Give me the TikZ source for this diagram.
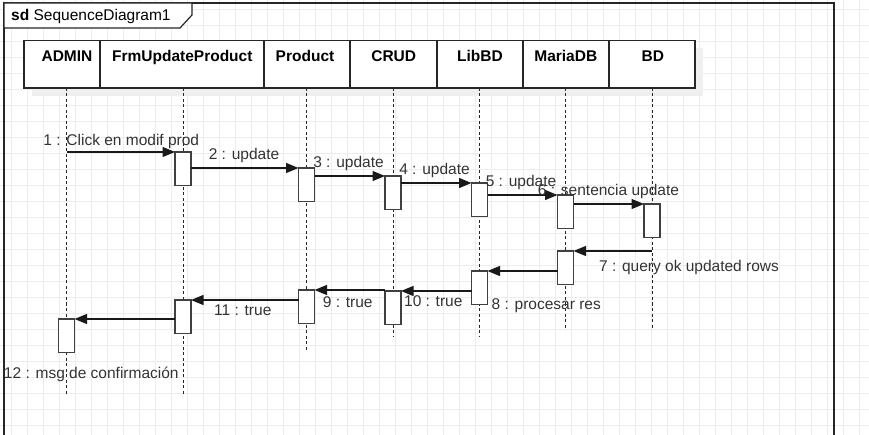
\documentclass[tikz,border=0pt]{standalone}
\usepackage{fontspec}
\setmainfont{Liberation Sans}
\usetikzlibrary{arrows.meta}
\definecolor{gridgray}{HTML}{EDEDED}
\definecolor{ink}{HTML}{333333}
\definecolor{shadowgray}{HTML}{EFEFEF}

\begin{document}
\begin{tikzpicture}[x=1pt,y=-1pt,
        every node/.style={font=\fontsize{15.5pt}{18pt}\selectfont},
        gridline/.style={gridgray,line width=1pt},
        head/.style={draw=black!85,fill=white,line width=1.2pt,minimum height=47.5pt,inner sep=0pt,outer sep=0pt,anchor=north},
        headtext/.style={anchor=base,inner sep=0pt,font=\fontsize{15.5pt}{18pt}\selectfont\bfseries},
        life/.style={black!85,line width=1pt,dash pattern=on 3pt off 2.5pt},
        act/.style={draw=black!75,fill=white,line width=1.2pt,minimum width=16pt,minimum height=33.5pt,inner sep=0pt,outer sep=0pt,anchor=north},
        msg/.style={black!90,line width=1.2pt,-{Triangle[length=12.5pt,width=10pt]}},
        lbl/.style={ink,anchor=base,inner sep=0pt}]
        \useasboundingbox (0,0) rectangle (869,435);
        % editor grid
        \foreach \gx in {11.3,27.3,...,869} \draw[gridline] (\gx,0) -- (\gx,435);
        \foreach \gy in {9.3,25.3,...,435} \draw[gridline] (0,\gy) -- (869,\gy);
        % frame
        \draw[black!85,line width=1.3pt] (4,435) -- (4,3) -- (834,3) -- (834,435);
        \draw[black!85,line width=1.2pt,fill=white] (4,3) -- (192,3) -- (192,15) -- (180,28) -- (4,28) -- cycle;
        \node[anchor=base west,inner sep=0pt] (title) at (11,20.5) {\textbf{sd} SequenceDiagram1};
        % heads
        \fill[shadowgray] (32,48.5) rectangle (703,96);
        \node[head,minimum width=76pt] (admin) at (62,40.5) {};
        \node[head,minimum width=164pt] (frm) at (182,40.5) {};
        \node[head,minimum width=86pt] (prod) at (307,40.5) {};
        \node[head,minimum width=87pt] (crud) at (393.5,40.5) {};
        \node[head,minimum width=86pt] (libbd) at (480,40.5) {};
        \node[head,minimum width=86pt] (maria) at (566,40.5) {};
        \node[head,minimum width=86pt] (bd) at (652,40.5) {};
        \node[headtext] (admin txt) at (67,61.5) {ADMIN};
        \node[headtext] (frm txt) at (182.3,61.5) {FrmUpdateProduct};
        \node[headtext] (prod txt) at (305,61.5) {Product};
        \node[headtext] (crud txt) at (393.7,61.5) {CRUD};
        \node[headtext] (libbd txt) at (480,61.5) {LibBD};
        \node[headtext] (maria txt) at (565.8,61.5) {MariaDB};
        \node[headtext] (bd txt) at (652.8,61.5) {BD};
        % lifelines
        \coordinate (admin end) at (66.5,395);
        \coordinate (frm end) at (183,395);
        \coordinate (prod end) at (306.5,350.5);
        \coordinate (crud end) at (393,337);
        \coordinate (libbd end) at (479.5,337);
        \coordinate (maria end) at (565.5,330);
        \coordinate (bd end) at (652,330);
        \draw[life] (admin end |- admin.south) -- (admin end);
        \draw[life] (frm end |- frm.south) -- (frm end);
        \draw[life] (prod end |- prod.south) -- (prod end);
        \draw[life] (crud end |- crud.south) -- (crud end);
        \draw[life] (libbd end |- libbd.south) -- (libbd end);
        \draw[life] (maria end |- maria.south) -- (maria end);
        \draw[life] (bd end |- bd.south) -- (bd end);
        % activations
        \node[act] (f1) at (183,152) {};
        \node[act] (p1) at (306.5,168) {};
        \node[act] (c1) at (393,176) {};
        \node[act] (l1) at (479.5,183) {};
        \node[act] (m1) at (565.5,195) {};
        \node[act] (b1) at (652,204) {};
        \node[act] (m2) at (565.5,251) {};
        \node[act] (l2) at (479.5,271) {};
        \node[act] (c2) at (393,291) {};
        \node[act] (p2) at (306.5,290) {};
        \node[act] (f2) at (183,300) {};
        \node[act] (a1) at (66.5,319) {};
        % messages
        \draw[msg] (admin end |- f1.north west) -- (f1.north west);
        \draw[msg] (f1.east |- p1.north west) -- (p1.north west);
        \draw[msg] (p1.east |- c1.north west) -- (c1.north west);
        \draw[msg] (c1.east |- l1.north west) -- (l1.north west);
        \draw[msg] (l1.east |- m1.north west) -- (m1.north west);
        \draw[msg] (m1.east |- b1.north west) -- (b1.north west);
        \draw[msg] (bd end |- m2.north east) -- (m2.north east);
        \draw[msg] (m2.west |- l2.north east) -- (l2.north east);
        \draw[msg] (l2.west |- c2.north east) -- (c2.north east);
        \draw[msg] (c2.west |- p2.north east) -- (p2.north east);
        \draw[msg] (p2.west |- f2.north east) -- (f2.north east);
        \draw[msg] (f2.west |- a1.north east) -- (a1.north east);
        % labels
        \node[lbl] (lbl1) at (121.3,145.5) {1 : Click en modif prod};
        \node[lbl] (lbl2) at (244,160) {2 : update};
        \node[lbl] (lbl3) at (348.5,168) {3 : update};
        \node[lbl] (lbl4) at (434.5,175) {4 : update};
        \node[lbl] (lbl5) at (521,186.7) {5 : update};
        \node[lbl] (lbl6) at (608.5,196) {6 : sentencia update};
        \node[lbl] (lbl7) at (689,271.7) {7 : query ok updated rows};
        \node[lbl] (lbl8) at (546.3,309.3) {8 : procesar res};
        \node[lbl] (lbl9) at (347.7,307.3) {9 : true};
        \node[lbl] (lbl10) at (433.3,306.7) {10 : true};
        \node[lbl] (lbl11) at (242.8,315.7) {11 : true};
        \node[lbl] (lbl12) at (91.3,378.7) {12 : msg de confirmación};
    \end{tikzpicture}
\end{document}
